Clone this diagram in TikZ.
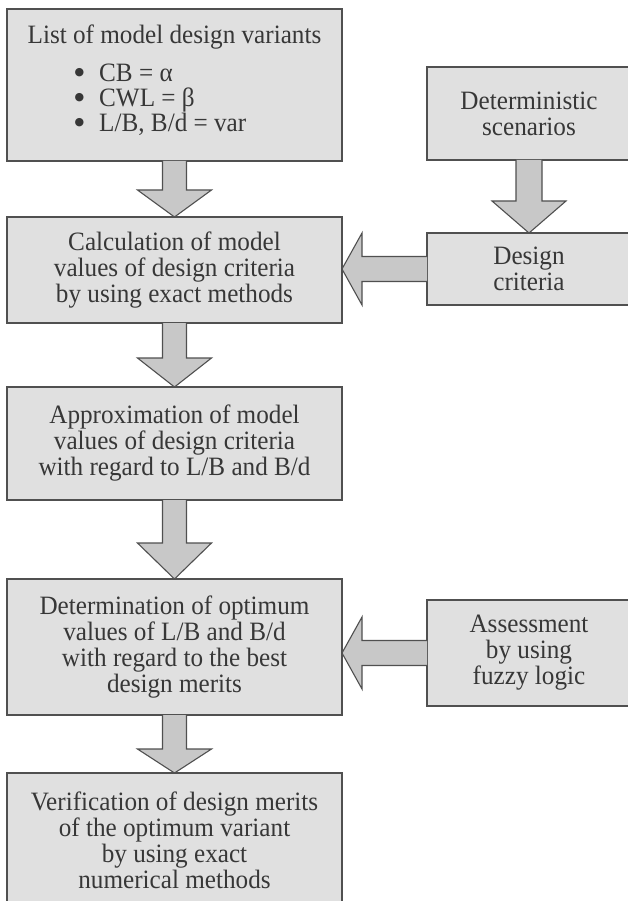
\documentclass[tikz,border=0pt]{standalone}
\usepackage{fontspec}
\setmainfont{Liberation Serif}[FakeStretch=0.95]
\newfontfamily\dejavu{DejaVu Sans}
\usetikzlibrary{calc}
\definecolor{boxfill}{RGB}{224,224,224}
\definecolor{boxline}{RGB}{80,80,80}
\definecolor{arrfill}{RGB}{200,200,200}
\definecolor{txtcol}{RGB}{55,55,55}
\newcommand\blockdown[4]{% from #1.south to #2.north, head height #3, shaft half width #4
  \coordinate (tipd) at (#2.north);
  \coordinate (topd) at (#1.south);
  \fill[arrfill] ($(topd)+(-#4,0)$) -- ($(tipd)+(-#4,-#3)$) -- ($(tipd)+(-37,-#3)$) -- (tipd)
     -- ($(tipd)+(37,-#3)$) -- ($(tipd)+(#4,-#3)$) -- ($(topd)+(#4,0)$) -- cycle;
  \draw[barrow] ($(topd)+(-#4,0)$) -- ($(tipd)+(-#4,-#3)$) -- ($(tipd)+(-37,-#3)$) -- (tipd)
     -- ($(tipd)+(37,-#3)$) -- ($(tipd)+(#4,-#3)$) -- ($(topd)+(#4,0)$);}
\newcommand\blockleft[2]{% from #1.west to #2.east
  \coordinate (tipl) at (#2.east |- #1.west);
  \coordinate (srcl) at (#1.west);
  \fill[arrfill] ($(srcl)+(0,-12.5)$) -- ($(tipl)+(20,-12.5)$) -- ($(tipl)+(20,-36)$) -- (tipl)
     -- ($(tipl)+(20,36)$) -- ($(tipl)+(20,12.5)$) -- ($(srcl)+(0,12.5)$) -- cycle;
  \draw[barrow] ($(srcl)+(0,-12.5)$) -- ($(tipl)+(20,-12.5)$) -- ($(tipl)+(20,-36)$) -- (tipl)
     -- ($(tipl)+(20,36)$) -- ($(tipl)+(20,12.5)$) -- ($(srcl)+(0,12.5)$);}
\newcommand\bul{\makebox[24.5pt][l]{\raisebox{6pt}{\dejavu\fontsize{11}{11}\selectfont ●}}}
\begin{document}
\begin{tikzpicture}[x=1pt,y=-1pt,
  box/.style={draw=boxline, line width=1.7pt, fill=boxfill, text=txtcol, align=center,
    font=\fontsize{26.5}{26}\selectfont, inner sep=0pt, outer sep=0pt},
  leftbox/.style={box, minimum width=335pt},
  rightbox/.style={box, minimum width=210pt},
  txt/.style={text=txtcol, font=\fontsize{26.5}{26}\selectfont, inner sep=0pt},
  barrow/.style={draw=boxline, line width=1.1pt, line join=miter}]
\useasboundingbox (0,0) rectangle (628,901);
\fill[white] (0,0) rectangle (628,901);
% left column
\node[leftbox, minimum height=152pt] (b1) at (174.5,85) {};
\node[txt, anchor=base] (t1) at (174.5,44) {List of model design variants};
\node[txt, anchor=base west] (v1) at (74.5,82) {\bul CB = α};
\node[txt, anchor=base west] (v2) at (74.5,107) {\bul CWL = β};
\node[txt, anchor=base west] (v3) at (74.5,132) {\bul L/B, B/d = var};
\node[leftbox, minimum height=106pt] (b2) at (174.5,270)
  {Calculation of model\\values of design criteria\\by using exact methods};
\node[leftbox, minimum height=113pt] (b3) at (174.5,443.5)
  {Approximation of model\\values of design criteria\\with regard to L/B and B/d};
\node[leftbox, minimum height=136pt] (b4) at (174.5,647)
  {Determination of optimum\\values of L/B and B/d\\with regard to the best\\design merits};
\node[leftbox, minimum height=134pt] (b5) at (174.5,840)
  {Verification of design merits\\of the optimum variant\\by using exact\\numerical methods};
% right column (cut off by the right edge)
\node[rightbox, minimum height=93pt] (r1) at (532,113.5) {};
\node[txt, align=center] (r1t) at (529,113.5) {Deterministic\\scenarios};
\node[rightbox, minimum height=72pt] (r2) at (532,269) {};
\node[txt, align=center] (r2t) at (529,269) {Design\\criteria};
\node[rightbox, minimum height=106pt] (r3) at (532,653) {};
\node[txt, align=center] (r3t) at (529,653) {Assessment\\by using\\fuzzy logic};
% arrows
\blockdown{b1}{b2}{27}{12}
\blockdown{b2}{b3}{29}{12}
\blockdown{b3}{b4}{36}{12}
\blockdown{b4}{b5}{24}{12}
\coordinate (r1s) at (r1t |- r1.south);
\coordinate (r2n) at (r2t |- r2.north);
\fill[arrfill] ($(r1s)+(-13,0)$) -- ($(r2n)+(-13,-32)$) -- ($(r2n)+(-37,-32)$) -- (r2n)
   -- ($(r2n)+(37,-32)$) -- ($(r2n)+(13,-32)$) -- ($(r1s)+(13,0)$) -- cycle;
\draw[barrow] ($(r1s)+(-13,0)$) -- ($(r2n)+(-13,-32)$) -- ($(r2n)+(-37,-32)$) -- (r2n)
   -- ($(r2n)+(37,-32)$) -- ($(r2n)+(13,-32)$) -- ($(r1s)+(13,0)$);
\blockleft{r2}{b2}
\blockleft{r3}{b4}
\end{tikzpicture}
\end{document}
